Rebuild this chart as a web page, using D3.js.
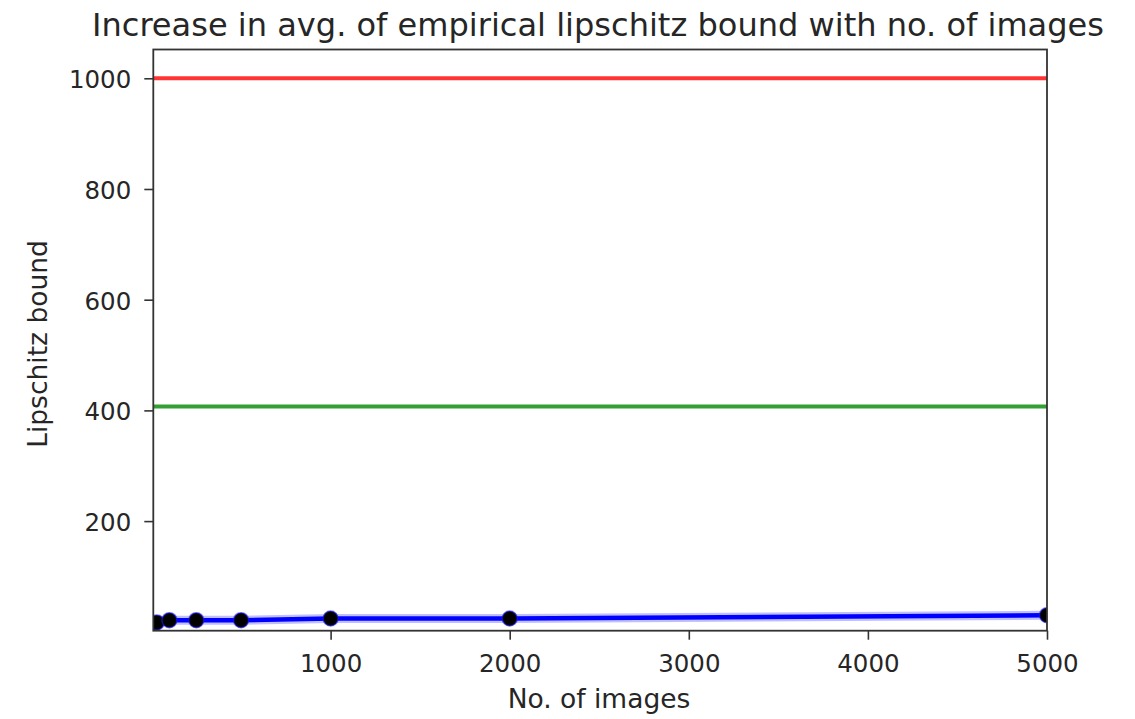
<!DOCTYPE html>
<html>
<head>
<meta charset="utf-8">
<script src="https://cdn.jsdelivr.net/npm/d3@7"></script>
<style>
body{margin:0;background:#fff;}
text{font-family:"DejaVu Sans",sans-serif;fill:#262626;}
.axis path{display:none;}
.axis line{stroke:#333;stroke-width:1.6;}
.axis text{font-size:24.5px;fill:#262626;}
</style>
</head>
<body>
<svg id="chart" width="1135" height="719"></svg>
<script>
//chart values
var images = [10, 30, 100, 250, 500, 1000, 2000, 5000],
	avgBound = [14, 17, 21, 21, 21, 24, 24, 30],
	xTicks = [1000, 2000, 3000, 4000, 5000],
	yTicks = [200, 400, 600, 800, 1000],
	refLines = [{value:1000, color:'#ff3333'}, {value:407, color:'#33a033'}];

var m = {t:49.5, r:88, b:88.3, l:153.3},
	W = 1135, H = 719,
	w = W - m.l - m.r,
	h = H - m.t - m.b;

var svg = d3.select('#chart');
var plot = svg.append('g')
	.attr('transform','translate('+m.l+','+m.t+')');

var scaleX = d3.scaleLinear().domain([10,5000]).range([0,w]),
	scaleY = d3.scaleLinear().domain([2,1052]).range([h,0]);

svg.append('defs').append('clipPath').attr('id','clip')
	.append('rect').attr('width',w).attr('height',h);

var inner = plot.append('g').attr('clip-path','url(#clip)');

//horizontal reference lines
inner.selectAll('.ref')
	.data(refLines)
	.enter()
	.append('line').attr('class','ref')
	.attr('x1',0).attr('x2',w)
	.attr('y1',function(d){return scaleY(d.value)})
	.attr('y2',function(d){return scaleY(d.value)})
	.style('stroke',function(d){return d.color})
	.style('stroke-width',4);

var pts = images.map(function(d,i){return {x:d, y:avgBound[i]}});

var line = d3.line()
	.x(function(d){return scaleX(d.x)})
	.y(function(d){return scaleY(d.y)});

//soft halo under the blue line
inner.append('path').datum(pts)
	.attr('d',line)
	.style('fill','none')
	.style('stroke','#0000ff')
	.style('stroke-opacity',0.25)
	.style('stroke-width',9);

inner.append('path').datum(pts)
	.attr('d',line)
	.style('fill','none')
	.style('stroke','#0000ff')
	.style('stroke-width',4.5);

inner.selectAll('.dot')
	.data(pts)
	.enter()
	.append('circle').attr('class','dot')
	.attr('cx',function(d){return scaleX(d.x)})
	.attr('cy',function(d){return scaleY(d.y)})
	.attr('r',7.5)
	.style('fill','#000')
	.style('stroke','#1a1aff')
	.style('stroke-opacity',0.6)
	.style('stroke-width',1.5);

//axes
var xAxis = d3.axisBottom(scaleX).tickValues(xTicks).tickSize(9).tickPadding(13)
	.tickFormat(function(t){return t});
var yAxis = d3.axisLeft(scaleY).tickValues(yTicks).tickSize(9).tickPadding(13)
	.tickFormat(function(t){return t});

plot.append('g').attr('class','axis axis-x')
	.attr('transform','translate(0,'+h+')')
	.call(xAxis);
plot.append('g').attr('class','axis axis-y')
	.call(yAxis);

plot.selectAll('.axis-x .tick text').attr('dy','0.78em');
plot.selectAll('.axis-y .tick text').attr('dy','0.38em');

//frame
plot.append('rect')
	.attr('width',w).attr('height',h)
	.style('fill','none')
	.style('stroke','#333')
	.style('stroke-width',1.8);

//titles
svg.append('text')
	.attr('x',598).attr('y',36)
	.attr('text-anchor','middle')
	.attr('textLength',1012)
	.attr('lengthAdjust','spacingAndGlyphs')
	.style('font-size','32px')
	.text('Increase in avg. of empirical lipschitz bound with no. of images');

svg.append('text')
	.attr('x',599).attr('y',708)
	.attr('text-anchor','middle')
	.style('font-size','26.5px')
	.text('No. of images');

svg.append('text')
	.attr('transform','translate(47,344) rotate(-90)')
	.attr('text-anchor','middle')
	.style('font-size','26.5px')
	.text('Lipschitz bound');
</script>
</body>
</html>
